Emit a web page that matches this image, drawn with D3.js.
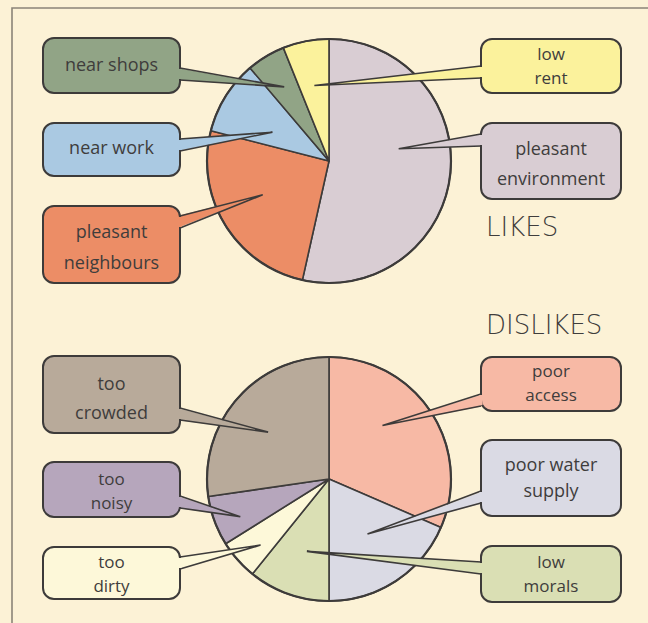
<!DOCTYPE html>
<html>
<head>
<meta charset="utf-8">
<script src="https://cdn.jsdelivr.net/npm/d3@7"></script>
<style>
  html, body { margin: 0; padding: 0; background: #fcf2d6; }
  svg { display: block; }
</style>
</head>
<body>
<svg id="chart" width="648" height="623"></svg>
<script>
// ---------- DATA ----------
const likesCategories = ["pleasant environment", "pleasant neighbours", "near work", "near shops", "low rent"];
const likesValues = [53.5, 25.5, 9.8, 5.1, 6.1];
const dislikesCategories = ["poor access", "poor water supply", "low morals", "too dirty", "too noisy", "too crowded"];
const dislikesValues = [31.5, 18.5, 10.8, 5.3, 6.6, 27.3];
const chartTitles = ["LIKES", "DISLIKES"];

// ---------- STYLE / LAYOUT ----------
const colors = {
  "pleasant environment": "#d9cdd3",
  "pleasant neighbours": "#ec8d66",
  "near work": "#aac9e2",
  "near shops": "#91a486",
  "low rent": "#fbf29c",
  "poor access": "#f7b9a5",
  "poor water supply": "#dadae4",
  "low morals": "#dadfb4",
  "too dirty": "#fdf8d9",
  "too noisy": "#b6a6bc",
  "too crowded": "#b8aa9a"
};
const ink = "#3d3b3a";
const textInk = "#3f3d3c";

// box: [x0,y0,x1,y1], lines: text rows, ly: row centres, fs: font size, by: pointer base centre, r: tip radius fraction, a: optional tip angle (deg)
const layout = {
  "near shops":          {box:[43,38,180,93],   lines:["near shops"],            ly:[64],      fs:18, by:74,  r:0.71},
  "near work":           {box:[43,123,180,176], lines:["near work"],             ly:[147],     fs:18, by:145, r:0.52, a:297},
  "pleasant neighbours": {box:[43,206,180,283], lines:["pleasant","neighbours"], ly:[231,262], fs:18, by:222, r:0.61, a:243},
  "low rent":            {box:[481,39,621,93],  lines:["low","rent"],            ly:[53,77],   fs:17, by:72,  r:0.63},
  "pleasant environment":{box:[481,123,621,199],lines:["pleasant","environment"],ly:[148,178], fs:18, by:140, r:0.58, a:80},
  "too crowded":         {box:[43,356,180,433], lines:["too","crowded"],         ly:[383,412], fs:18, by:414, r:0.63, a:307.6},
  "too noisy":           {box:[43,462,180,517], lines:["too","noisy"],           ly:[478,502], fs:17, by:502, r:0.79, a:247},
  "too dirty":           {box:[43,547,180,599], lines:["too","dirty"],           ly:[561,585], fs:17, by:563, r:0.78, a:226},
  "poor access":         {box:[481,357,621,411],lines:["poor","access"],         ly:[370,394], fs:17, by:400, r:0.62, a:45},
  "poor water supply":   {box:[481,440,621,516],lines:["poor water","supply"],   ly:[464,490], fs:18, by:497, r:0.55, a:145},
  "low morals":          {box:[481,546,621,602],lines:["low","morals"],          ly:[561,585], fs:17, by:568, r:0.62, a:197}
};

const pies = [
  {cats: likesCategories, vals: likesValues, cx: 329, cy: 161, R: 122, title: chartTitles[0], tx: 486, ty: 227},
  {cats: dislikesCategories, vals: dislikesValues, cx: 329, cy: 479, R: 122, title: chartTitles[1], tx: 486, ty: 325}
];

const svg = d3.select("#chart");

// background and frame
svg.append("rect").attr("width", 648).attr("height", 623).attr("fill", "#fcf2d6");
svg.append("path").attr("d", "M12,623 L12,8 L648,8")
  .attr("fill", "none").attr("stroke", "#8a8478").attr("stroke-width", 1.6);

const toRad = d => d * Math.PI / 180;

pies.forEach(p => {
  const data = p.cats.map((c, i) => ({cat: c, val: p.vals[i]}));
  const pie = d3.pie().sort(null).value(d => d.val);
  const arcs = pie(data);
  const arc = d3.arc().innerRadius(0).outerRadius(p.R);

  const g = svg.append("g").attr("transform", `translate(${p.cx},${p.cy})`);
  g.selectAll("path.slice").data(arcs).join("path")
    .attr("class", "slice")
    .attr("d", arc)
    .attr("fill", d => colors[d.data.cat])
    .attr("stroke", ink).attr("stroke-width", 1.6).attr("stroke-linejoin", "round");
  g.append("circle").attr("r", p.R).attr("fill", "none").attr("stroke", ink).attr("stroke-width", 2.2);

  // pointers
  arcs.forEach(d => {
    const L = layout[d.data.cat];
    const angDeg = (L.a !== undefined) ? L.a : (d.startAngle + d.endAngle) / 2 * 180 / Math.PI;
    const ang = toRad(angDeg);
    const rr = L.r * p.R;
    const tx = p.cx + rr * Math.sin(ang);
    const ty = p.cy - rr * Math.cos(ang);
    const leftBox = L.box[0] < p.cx;
    const bx = leftBox ? L.box[2] : L.box[0];
    const inset = leftBox ? -3 : 3;
    const hw = 6;
    svg.append("path")
      .attr("d", `M${bx + inset},${L.by - hw} L${tx},${ty} L${bx + inset},${L.by + hw} Z`)
      .attr("fill", colors[d.data.cat]);
    svg.append("path")
      .attr("d", `M${bx},${L.by - hw} L${tx},${ty} L${bx},${L.by + hw}`)
      .attr("fill", "none").attr("stroke", ink).attr("stroke-width", 1.6).attr("stroke-linejoin", "miter");
  });

  // boxes
  arcs.forEach(d => {
    const L = layout[d.data.cat];
    const [x0, y0, x1, y1] = L.box;
    const leftBox = x0 < p.cx;
    const hw = 6;
    svg.append("rect")
      .attr("x", x0).attr("y", y0).attr("width", x1 - x0).attr("height", y1 - y0)
      .attr("rx", 11).attr("ry", 11)
      .attr("fill", colors[d.data.cat])
      .attr("stroke", ink).attr("stroke-width", 2);
    // opening where pointer joins
    const bx = leftBox ? x1 : x0;
    svg.append("rect")
      .attr("x", bx - 1.5).attr("y", L.by - hw + 1).attr("width", 3).attr("height", 2 * hw - 2)
      .attr("fill", colors[d.data.cat]);
    const t = svg.append("g");
    L.lines.forEach((ln, i) => {
      t.append("text")
        .attr("x", (x0 + x1) / 2).attr("y", L.ly[i])
        .attr("text-anchor", "middle").attr("dominant-baseline", "central")
        .attr("font-family", "'Open Sans', sans-serif").attr("font-size", L.fs)
        .attr("fill", textInk)
        .text(ln);
    });
  });

  svg.append("text")
    .attr("x", p.tx).attr("y", p.ty)
    .attr("dominant-baseline", "central")
    .attr("font-family", "'DejaVu Sans', sans-serif").attr("font-weight", 200)
    .attr("font-size", 26).attr("fill", textInk)
    .text(p.title);
});
</script>
</body>
</html>
